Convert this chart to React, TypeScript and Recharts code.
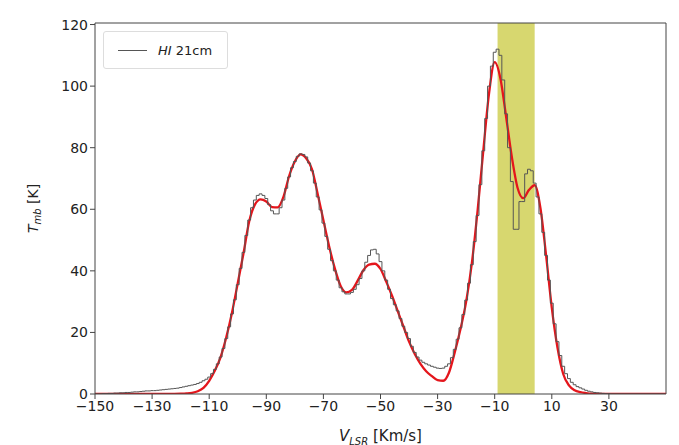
import React from 'react';
import { ComposedChart, Line, XAxis, YAxis, ReferenceArea, ReferenceLine, Legend } from 'recharts';

// HI channels: first velocity and channel width (km/s)
const hiStart = -150;
const hiStep = 1;

// observed HI 21cm spectrum (K), one value per channel from -150 to 50 km/s
const hiTemp = [
  0, 0, 0, 0.1, 0.1, 0.2, 0.2, 0.3, 0.3, 0.4,
  0.4, 0.5, 0.5, 0.6, 0.7, 0.7, 0.8, 0.9, 1.0, 1.0,
  1.1, 1.1, 1.2, 1.3, 1.4, 1.5, 1.6, 1.7, 1.8, 1.9,
  2.1, 2.3, 2.5, 2.7, 2.9, 3.1, 3.4, 3.8, 4.3, 4.8,
  5.5, 6.6, 8, 9.8, 12, 14.8, 18, 21.8, 26, 30.6,
  35.5, 40.8, 46, 51.5, 56.5, 60.5, 63, 64.5, 65, 64.5,
  63.5, 61.5, 59.5, 58.5, 58.5, 60.5, 63, 66.8, 70.5, 73.5,
  75.5, 77.2, 78, 77.8, 77, 75, 72.5, 68.5, 64, 59.8,
  55.5, 51.2, 47, 43.3, 40, 37, 34.5, 33.2, 32.5, 32.5,
  33, 34, 35.5, 37.5, 40, 42.8, 45, 46.8, 47, 45.5,
  43, 40, 37, 34, 31, 29, 27, 24.5, 22, 20,
  18, 15.5, 13.5, 12, 11, 10.3, 9.8, 9.4, 9, 8.7,
  8.4, 8.3, 8.4, 9, 9.8, 11.8, 14.5, 17.8, 21.5, 25.8,
  30.5, 36, 42, 49.5, 58, 68, 79, 89.5, 100, 106.5,
  111, 112, 110, 102, 91, 80, 69, 53.5, 53.5, 62.5,
  62.5, 71.5, 73, 72.5, 68.5, 64, 58.5, 52.5, 45, 37,
  29.5, 22.8, 17, 12.5, 9, 6.6, 5, 3.8, 3, 2.4,
  2, 1.6, 1.2, 0.9, 0.7, 0.5, 0.4, 0.3, 0.2, 0.1,
  0.1, 0, 0, 0, 0, 0, 0, 0, 0, 0,
  0, 0, 0, 0, 0, 0, 0, 0, 0, 0,
  0,
];

// gaussian fit sample velocities (km/s)
const fitVelocity = [
  -150, -140, -130, -124, -120, -118, -116, -114, -112,
  -110, -108, -106, -104, -102, -100, -98, -96, -94, -92,
  -90, -88, -86, -84, -82, -80, -78, -76, -74, -72,
  -70, -68, -66, -64, -62, -60, -58, -56, -54, -52,
  -50, -48, -46, -44, -42, -40, -38, -36, -34, -32,
  -30, -28, -26, -24, -22, -20, -18, -16, -14, -12,
  -10, -8, -6, -4, -2, 0, 2, 4, 6, 8,
  10, 12, 14, 16, 18, 20, 22, 24, 28, 35, 50,
];

// gaussian fit (K)
const fitTemp = [
  0, 0, 0, 0, 0.1, 0.2, 0.4, 0.9, 2.0,
  4.3, 7.6, 12, 18.5, 26.5, 36, 45.6, 56, 61.5, 63.2,
  62.5, 60.7, 60.6, 64, 70.8, 75.5, 77.8, 76.5, 73, 65,
  56.4, 48, 40.8, 35.2, 33, 33.8, 36.8, 40.2, 42, 42.3,
  40.6, 36.5, 32, 27, 22, 17, 13, 9.8, 7.4, 5.8,
  4.5, 4.3, 7, 13.5, 21, 30, 42.5, 59.5, 79, 97.5,
  107.8, 102.5, 90, 77, 67, 63.6, 66.3, 67.8, 60.5, 45,
  28, 15, 6.5, 2.8, 1.2, 0.6, 0.3, 0.1, 0, 0, 0,
];

const xTicks = [-150, -130, -110, -90, -70, -50, -30, -10, 10, 30];
const yTicks = [0, 20, 40, 60, 80, 100, 120];
const band = [-9, 4];
const xDomain = [-150, 50];
const yDomain = [0, 120.5];

const hiData = hiTemp.map((t, i) => ({ v: hiStart + i * hiStep, t }));
const fitData = fitVelocity.map((v, i) => ({ v, t: fitTemp[i] }));

const font = 'DejaVu Sans, sans-serif';
const axisColor = '#444';
const textColor = '#222';
const fmt = (n: number) => String(n).replace('-', '\u2212');

const LegendBox = () => (
  <div
    style={{
      position: 'absolute',
      left: 103,
      top: 31,
      width: 125,
      height: 38,
      boxSizing: 'border-box',
      border: '1px solid #ddd',
      borderRadius: 3,
      background: '#fff',
      display: 'flex',
      alignItems: 'center',
      fontFamily: font,
      fontSize: 13,
      color: textColor,
    }}
  >
    <div style={{ width: 29, height: 0, borderTop: '1px solid #555', marginLeft: 14, marginRight: 11 }} />
    <span>
      <i>HI</i> 21cm
    </span>
  </div>
);

export default function App() {
  return (
    <div style={{ position: 'fixed', left: 0, top: 0, width: 679, height: 445, background: '#fff' }}>
      <ComposedChart width={679} height={445} margin={{ top: 23, right: 13, bottom: 0, left: 0 }}>
        <ReferenceArea x1={band[0]} x2={band[1]} y1={yDomain[0]} y2={yDomain[1]} fill="#d7d76f" fillOpacity={1} stroke="none" />
        <XAxis
          dataKey="v"
          type="number"
          domain={xDomain}
          ticks={xTicks}
          tickFormatter={fmt}
          height={51}
          stroke={axisColor}
          tickSize={5}
          tick={{ fill: textColor, fontSize: 14, fontFamily: font }}
          allowDataOverflow
          label={({ viewBox }: any) => (
            <text x={viewBox.x + viewBox.width / 2} y={441} textAnchor="middle" fontFamily={font} fontSize={15} fill={textColor}>
              <tspan fontStyle="italic">V</tspan>
              <tspan fontSize={10} dy={4} fontStyle="italic">LSR</tspan>
              <tspan dy={-4}> [Km/s]</tspan>
            </text>
          )}
        />
        <YAxis
          type="number"
          domain={yDomain}
          ticks={yTicks}
          width={95}
          stroke={axisColor}
          tickSize={5}
          tick={{ fill: textColor, fontSize: 14, fontFamily: font }}
          allowDataOverflow
          label={({ viewBox }: any) => (
            <text x={38} y={viewBox.y + viewBox.height / 2} textAnchor="middle" fontFamily={font} fontSize={14} fill={textColor} transform={`rotate(-90 38 ${viewBox.y + viewBox.height / 2})`}>
              <tspan fontStyle="italic">T</tspan>
              <tspan fontSize={10} dy={3} fontStyle="italic">mb</tspan>
              <tspan dy={-3}> [K]</tspan>
            </text>
          )}
        />
        <ReferenceLine y={yDomain[1]} stroke={axisColor} />
        <ReferenceLine x={xDomain[1]} stroke={axisColor} />
        <Line data={fitData} dataKey="t" type="monotone" stroke="#e4161c" strokeWidth={2.3} dot={false} isAnimationActive={false} />
        <Line data={hiData} dataKey="t" type="step" stroke="#555" strokeWidth={1} dot={false} isAnimationActive={false} />
        <Legend content={() => <LegendBox />} wrapperStyle={{ position: 'absolute', left: 0, top: 0, width: 0, height: 0 }} />
      </ComposedChart>
    </div>
  );
}
